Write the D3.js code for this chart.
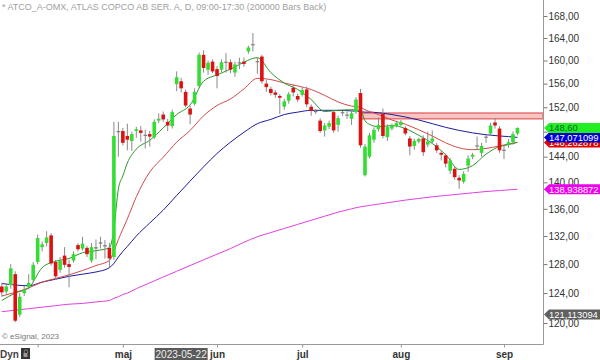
<!DOCTYPE html>
<html><head><meta charset="utf-8">
<script src="https://cdn.jsdelivr.net/npm/d3@7"></script>
<style>body{margin:0;background:#fff} svg{display:block;font-family:"Liberation Sans",Arial,sans-serif}</style>
</head><body>
<svg id="c" width="600" height="360"></svg>
<script>
// ---- data ----
const opens  = [124.9,124.2,125.1,126.6,121.1,124.0,124.8,125.8,128.3,130.4,131.0,132.1,128.3,127.2,129.2,128.0,128.5,130.7,130.2,130.3,128.5,130.2,130.9,130.5,130.3,
129.0,148.1,148.1,147.3,146.5,148.1,148.2,147.3,147.6,147.1,149.8,150.8,149.6,148.9,155.9,156.4,154.6,151.8,152.6,155.6,161.0,158.4,159.8,158.5,158.4,159.6,159.7,157.9,159.5,159.8,
161.6,162.7,159.9,160.7,156.0,155.1,154.5,153.9,152.1,153.1,155.3,153.9,154.1,155.0,152.1,151.4,149.8,148.2,148.8,151.2,149.1,151.0,150.8,150.1,151.2,154.4,141.1,144.0,146.7,148.4,
150.9,147.1,148.5,148.9,149.1,148.6,146.9,145.7,146.4,146.9,145.9,146.4,145.8,144.6,144.2,141.8,142.1,140.7,140.1,142.6,144.0,145.6,144.6,147.0,147.7,149.5,148.5,145.1,145.9,146.3,147.7];
const highs  = [125.3,125.3,128.0,127.0,124.0,125.0,126.6,128.3,132.2,131.2,132.7,132.4,128.6,129.0,130.4,128.6,129.8,131.0,131.9,130.6,131.0,131.5,131.9,131.4,131.0,
149.6,149.6,148.6,149.3,148.0,148.8,148.9,148.3,148.1,150.0,151.0,151.3,150.1,151.6,158.1,157.0,155.0,152.3,155.2,161.4,161.8,160.0,160.2,159.0,160.2,161.3,160.2,159.8,160.5,160.5,
162.6,164.9,160.5,161.0,156.6,155.5,154.9,154.2,153.4,154.6,155.9,154.3,155.4,155.5,152.5,151.7,150.2,149.4,149.8,151.5,150.6,151.4,151.3,151.6,153.7,155.1,146.0,147.8,148.7,150.3,
151.8,149.2,149.3,149.7,149.9,148.9,147.3,146.9,147.0,147.4,148.0,148.2,146.2,144.9,144.5,143.8,142.4,141.1,141.7,144.2,144.6,147.2,146.2,147.5,149.4,150.2,148.9,145.8,146.8,148.0,148.7];
const lows   = [123.5,123.9,124.6,120.1,120.8,123.6,124.5,125.5,128.0,129.8,130.5,127.8,125.8,126.8,127.5,124.8,128.2,129.8,129.9,129.0,128.2,128.7,130.2,128.8,127.6,
128.6,144.0,145.8,145.0,144.9,147.0,146.4,145.3,145.6,146.8,149.4,149.6,148.1,148.5,154.7,154.5,152.0,149.2,152.3,155.3,157.9,157.5,157.8,155.2,158.0,157.9,157.8,157.2,158.5,158.9,
161.2,161.6,157.7,156.0,154.6,154.0,153.6,150.9,151.6,152.6,153.8,152.9,153.8,152.0,150.6,150.9,147.8,147.2,148.4,147.8,148.0,150.6,150.1,149.1,150.9,145.4,140.9,143.7,146.2,148.0,
146.9,146.5,148.2,148.7,148.9,147.4,144.2,145.1,146.1,144.1,145.5,146.0,144.6,143.4,142.3,141.3,140.4,139.0,139.8,141.6,143.6,145.0,144.0,146.2,147.3,148.5,144.6,143.6,145.4,145.9,147.4];
const closes = [124.1,124.9,127.4,120.3,123.5,124.4,125.4,127.9,131.7,130.8,131.8,128.1,126.3,128.5,127.9,127.6,129.4,130.1,130.9,129.4,130.4,130.4,131.1,130.7,128.8,
147.3,147.9,146.2,146.7,147.6,148.4,147.8,147.5,147.2,149.6,150.1,150.0,149.0,151.2,157.1,155.2,152.3,150.8,154.6,161.0,158.7,159.6,158.1,157.3,159.7,159.8,158.4,159.3,159.7,159.4,
162.3,162.9,159.7,156.4,155.4,154.4,154.1,153.6,153.0,154.2,154.5,153.3,154.9,152.5,151.4,151.2,148.1,149.0,149.4,148.2,150.2,151.2,150.6,151.0,153.3,145.8,145.6,147.4,148.3,149.1,
147.3,148.8,149.0,149.4,149.6,147.7,145.6,146.5,146.8,144.7,146.4,146.9,145.0,144.3,142.9,143.4,140.8,140.3,141.3,143.7,144.3,145.8,145.7,147.2,149.0,149.0,145.0,144.9,146.3,147.6,148.6];

const maIdx  = [0,3,6,9,12,15,18,21,24,25,26,27,28,30,33,36,39,42,45,48,51,54,57,60,63,66,69,72,75,78,80,81,82,84,87,90,93,96,99,102,105,108,111,113,115];
const maFast = [123.0,124.0,124.7,127.5,128.4,128.8,129.6,129.9,130.3,133.0,139.0,141.0,143.0,145.2,146.6,148.6,150.8,152.4,156.4,157.5,158.5,159.7,160.5,157.9,156.1,155.0,153.3,151.3,151.5,151.6,151.5,149.8,149.2,148.8,149.0,148.5,147.4,146.1,144.3,142.0,142.6,144.4,145.6,145.9,146.3];
const maMid  = [123.6,124.1,124.7,125.5,126.0,126.5,127.1,127.8,128.5,129.8,131.5,133.0,134.5,137.8,141.6,143.9,146.3,148.2,150.6,152.3,153.4,155.1,156.9,156.7,156.1,155.6,155.0,154.0,152.9,152.2,152.0,151.6,151.3,150.8,149.9,149.2,148.3,147.3,146.2,145.4,145.1,145.3,145.7,146.0,146.26];
const maSlow = [125.3,125.1,125.0,125.5,125.9,126.3,126.6,126.9,127.5,128.1,129.0,129.8,130.5,132.0,133.9,135.8,138.0,140.2,142.4,144.5,146.3,147.9,149.3,150.0,150.8,151.2,151.5,151.5,151.5,151.4,151.3,151.2,151.2,151.1,150.8,150.4,149.9,149.3,148.7,148.2,147.8,147.5,147.3,147.2,147.07];
const maLong = [121.5,121.7,121.9,122.1,122.3,122.5,122.6,122.8,123.0,123.3,123.5,123.8,124.0,124.6,125.4,126.2,127.0,127.8,128.6,129.4,130.2,131.1,131.9,132.5,133.1,133.7,134.3,134.9,135.5,136.0,136.3,136.4,136.5,136.7,137.0,137.3,137.55,137.8,138.0,138.2,138.4,138.6,138.75,138.85,138.94];

const priceTicks = [120,124,128,132,136,140,144,148,152,156,160,164,168];
const monthIdx = [8,27,48,67,89,112];
const monthLabels = ["","maj","jun","jul","aug","sep"];
const zone = [150.1, 151.05];
const zoneStart = 80;
const crossIdx = 40, crossLabel = "2023-05-22";
const tagValues = [146.262878, 147.071099, 148.60, 138.938872, 121.113094];
const tagTexts  = ["146,262878","147,071099","148,60","138,938872","121,113094"];
const tagColors = ["#e00000","#0000d0","#22ee22","#ee00ee","#606060"];
const tagTextColors = ["#fff","#fff","#063","#fff","#fff"];
const title = "* ATCO_A-OMX, ATLAS COPCO AB SER. A, D, 09:00-17:30 (200000 Bars Back)";

// ---- drawing ----
const svg = d3.select("#c");
const W = 543, H = 344;
const x = d3.scaleLinear().domain([-0.4, 120.7]).range([0, W]);
const y = d3.scaleLog().domain([120, 168]).range([323, 16]);

svg.append("defs").append("clipPath").attr("id","pc").append("rect")
  .attr("x",0).attr("y",0).attr("width",W).attr("height",H);
const plot = svg.append("g").attr("clip-path","url(#pc)");

// title
svg.append("text").attr("x",2).attr("y",10).attr("font-size",9).attr("fill","#a0a0a0").text(title);

// resistance zone
plot.append("rect").attr("x", x(zoneStart)).attr("width", W - x(zoneStart))
  .attr("y", y(zone[1])).attr("height", y(zone[0]) - y(zone[1]))
  .attr("fill","#f7c4c4").attr("stroke","#e87272").attr("stroke-width",1.5);

// moving averages
const lineGen = vals => d3.line().x((d,k)=>x(maIdx[k])).y(d=>y(d)).curve(d3.curveMonotoneX)(vals);
[[maLong,"#e040e0"],[maSlow,"#1c1c9c"],[maMid,"#d44a4a"],[maFast,"#2a9a2a"]].forEach(([v,c])=>{
  plot.append("path").attr("d",lineGen(v)).attr("fill","none").attr("stroke",c).attr("stroke-width",1);
});

// candles
const idx = d3.range(closes.length);
const bw = 3.6;
plot.append("g").selectAll("line").data(idx).join("line")
  .attr("x1",i=>x(i)).attr("x2",i=>x(i)).attr("y1",i=>y(highs[i])).attr("y2",i=>y(lows[i]))
  .attr("stroke","#8a8a8a").attr("stroke-width",1);
plot.append("g").selectAll("rect").data(idx).join("rect")
  .attr("x",i=>x(i)-bw/2).attr("width",bw)
  .attr("y",i=>y(Math.max(opens[i],closes[i])))
  .attr("height",i=>Math.max(1.2, Math.abs(y(opens[i])-y(closes[i]))))
  .attr("fill",i=>{const d=closes[i]-opens[i]; return Math.abs(d)<0.25?"#808080":(d>0?"#33dd33":"#dd1111");});

// axes frame
svg.append("line").attr("x1",W+0.5).attr("x2",W+0.5).attr("y1",0).attr("y2",H+0.5).attr("stroke","#999");
svg.append("line").attr("x1",0).attr("x2",W+0.5).attr("y1",H+0.5).attr("y2",H+0.5).attr("stroke","#999");

// right axis
const ya = svg.append("g").attr("transform",`translate(${W+0.5},0)`)
  .call(d3.axisRight(y).tickValues(priceTicks).tickFormat(v=>v.toFixed(2).replace(".",",")).tickSize(4).tickPadding(1));
ya.select(".domain").remove();
ya.selectAll("line").attr("stroke","#777");
ya.selectAll("text").attr("font-size",10).attr("fill","#333").attr("font-family","Liberation Sans,Arial,sans-serif");

// bottom axis
const xa = svg.append("g").attr("transform",`translate(0,${H+0.5})`)
  .call(d3.axisBottom(x).tickValues(monthIdx).tickFormat((d,k)=>monthLabels[k]).tickSize(3).tickPadding(3));
xa.select(".domain").remove();
xa.selectAll("line").attr("stroke","#999");
xa.selectAll("text").attr("font-size",10).attr("font-weight","bold").attr("fill","#333").attr("font-family","Liberation Sans,Arial,sans-serif");

// crosshair date label
const cx = x(crossIdx);
svg.append("rect").attr("x",cx-26.5).attr("y",348).attr("width",53).attr("height",12).attr("fill","#5a5a5a");
svg.append("text").attr("x",cx).attr("y",358).attr("text-anchor","middle").attr("font-size",10).attr("fill","#eee").text(crossLabel);

// Dyn + lock icon
svg.append("text").attr("x",0).attr("y",358).attr("font-size",10).attr("font-weight","bold").attr("fill","#444").text("Dyn");
svg.append("rect").attr("x",21).attr("y",348).attr("width",9).attr("height",11).attr("fill","#333");
svg.append("rect").attr("x",23.5).attr("y",353).attr("width",4).attr("height",4).attr("fill","#999");
svg.append("path").attr("d","M24.3,353 v-1.5 a1.7,1.7 0 0 1 3.4,0 v1.5").attr("fill","none").attr("stroke","#999").attr("stroke-width",0.8);

// copyright
svg.append("text").attr("x",2).attr("y",339).attr("font-size",8).attr("fill","#777").text("\u00A9 eSignal, 2023");

// value tags
tagValues.forEach((v,k)=>{
  const cy = y(v), h = 5;
  svg.append("path").attr("d",`M${W+1},${cy} L${W+6},${cy-h} L600,${cy-h} L600,${cy+h} L${W+6},${cy+h} Z`).attr("fill",tagColors[k]);
  svg.append("text").attr("x",W+6).attr("y",cy+3.4).attr("font-size",9.4).attr("fill",tagTextColors[k]).text(tagTexts[k]);
});
</script>
</body></html>
